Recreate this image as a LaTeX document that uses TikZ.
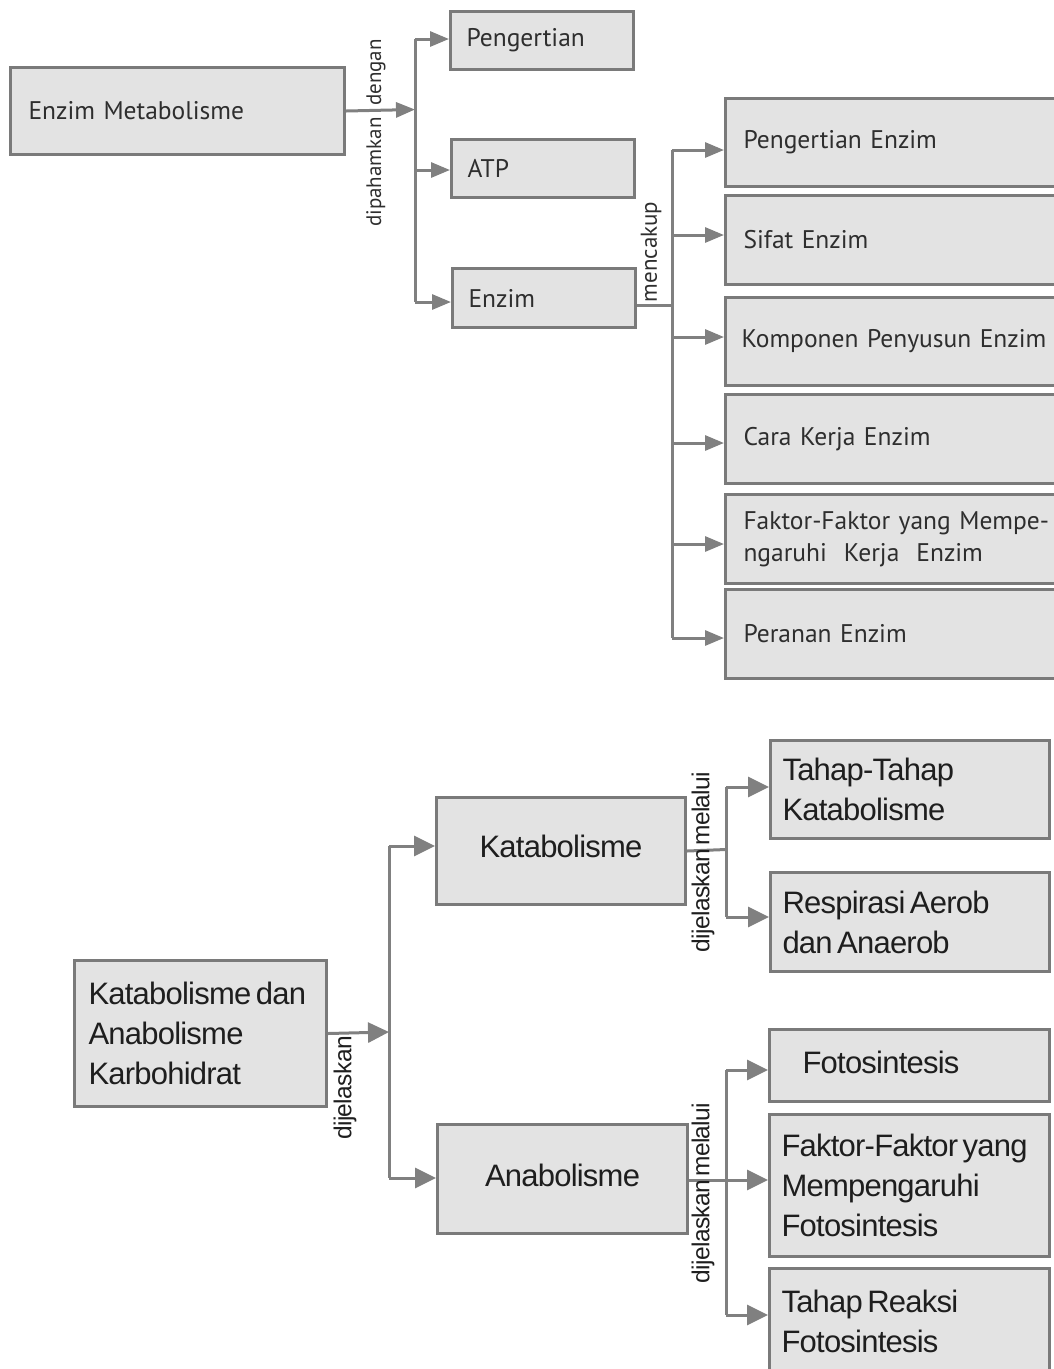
\documentclass[tikz,border=0pt]{standalone}
\usepackage{fontspec}
\setmainfont{PT Sans}
\newfontfamily\arialf[LetterSpace=-2.5]{Liberation Sans}
\newcommand\botfnt{\arialf\fontsize{31}{40}\selectfont}
\newcommand\labfnt{\arialf\fontsize{24.5}{26}\selectfont}
\newcommand\bsp{\spaceskip=4.5pt plus 2pt\relax}
\newcommand\lsp{\spaceskip=3pt\relax}
\usetikzlibrary{arrows.meta}
\definecolor{bordc}{HTML}{7A7A7A}
\definecolor{fillc}{HTML}{E3E3E3}
\definecolor{linec}{HTML}{808080}
\definecolor{txtt}{HTML}{2E2E2E}
\definecolor{txtb}{HTML}{1E1E1E}
\begin{document}
\begin{tikzpicture}[x=1pt,y=-1pt,
  bx/.style={draw=bordc,fill=fillc,line width=3pt,inner ysep=0pt,anchor=north west,align=left},
  topbx/.style={bx,text=txtt,font=\fontsize{25.5}{33}\selectfont},
  botbx/.style={bx,text=txtb,font=\botfnt},
  ln/.style={draw=linec,line width=3pt},
  tarr/.style={ln,-{Triangle[length=19pt,width=15pt]}},
  barr/.style={ln,-{Triangle[length=21pt,width=20pt]}},
  toplab/.style={rotate=90,text=txtt,inner sep=0pt},
  botlab/.style={rotate=90,text=txtb,font=\labfnt,inner sep=0pt}]
\useasboundingbox (0,0) rectangle (1054,1369);

% ---------- top part ----------
\node[topbx,minimum width=334,minimum height=87,inner xsep=18pt,text width=298pt] (em) at (9,66) {Enzim Metabolisme};
\node[topbx,minimum width=183,minimum height=58,inner xsep=16pt,text width=151pt] (peng) at (449,10) {Pengertian};
\node[topbx,minimum width=183,minimum height=58,inner xsep=16pt,text width=151pt] (atp) at (450,138) {ATP};
\node[topbx,minimum width=183,minimum height=59,inner xsep=16pt,text width=151pt] (enz) at (451,267) {Enzim};

\node[topbx,minimum height=88,inner xsep=18pt,text width=320pt] (pe) at (724,97) {Pengertian Enzim};
\node[topbx,minimum height=89,inner xsep=18pt,text width=320pt] (se) at (724,194) {Sifat Enzim};
\node[topbx,minimum height=88,inner xsep=16pt,text width=320pt] (kp) at (724,296) {Komponen Penyusun Enzim};
\node[topbx,minimum height=89,inner xsep=18pt,text width=320pt] (ck) at (724,393) {Cara Kerja Enzim};
\node[topbx,minimum height=89,inner xsep=18pt,text width=320pt] (ff) at (724,493) {Faktor-Faktor yang Mempe-\\[-1pt]ngaruhi\ \ Kerja\ \ Enzim};
\node[topbx,minimum height=89,inner xsep=18pt,text width=320pt] (pr) at (724,588) {Peranan Enzim};

\coordinate (j1) at (415,109.5);
\coordinate (j1t) at (415,39);
\coordinate (j1a) at (415,170);
\coordinate (j1b) at (415,302);
\draw[tarr] (em.east) -- (j1);
\draw[ln] (j1t) -- (j1b);
\draw[tarr] (j1t) -- (j1t -| peng.west);
\draw[tarr] (j1a) -- (j1a -| atp.west);
\draw[tarr] (j1b) -- (j1b -| enz.west);
\node[toplab,font=\fontsize{21}{22}\selectfont] (l1) at (376,133) {dipahamkan\ \ dengan};

\coordinate (j2) at (672,305);
\coordinate (j2a) at (672,150);
\coordinate (j2b) at (672,235);
\coordinate (j2c) at (672,337);
\coordinate (j2d) at (672,443);
\coordinate (j2e) at (672,544);
\coordinate (j2f) at (672,638);
\draw[ln] (j2 -| enz.east) -- (j2);
\draw[ln] (j2a) -- (j2f);
\draw[tarr] (j2a) -- (j2a -| pe.west);
\draw[tarr] (j2b) -- (j2b -| se.west);
\draw[tarr] (j2c) -- (j2c -| kp.west);
\draw[tarr] (j2d) -- (j2d -| ck.west);
\draw[tarr] (j2e) -- (j2e -| ff.west);
\draw[tarr] (j2f) -- (j2f -| pr.west);
\node[toplab,font=\fontsize{23}{24}\selectfont] (l2) at (651,252) {mencakup};

% ---------- bottom part ----------
\node[botbx,minimum width=252,minimum height=146,inner xsep=14pt,text width=224pt] (kak) at (73,959) {\bsp Katabolisme dan\\Anabolisme\\Karbohidrat};
\node[botbx,minimum width=249,minimum height=107,inner xsep=0pt,text width=249pt,align=center] (kat) at (435,796) {\raisebox{10pt}{Katabolisme}};
\node[botbx,minimum width=250,minimum height=109,inner xsep=0pt,text width=250pt,align=center] (ana) at (436,1123) {\raisebox{8pt}{Anabolisme}};

\node[botbx,minimum width=279,minimum height=98,inner xsep=12pt,text width=255pt] (tt) at (769,739) {\bsp Tahap-Tahap\\Katabolisme};
\node[botbx,minimum width=279,minimum height=99,inner xsep=12pt,text width=255pt] (rs) at (769,871) {\bsp Respirasi Aerob\\dan Anaerob};
\node[botbx,minimum width=280,minimum height=72,inner xsep=33pt,text width=214pt] (fo) at (768,1028) {\raisebox{7pt}{Fotosintesis}};
\node[botbx,minimum width=280,minimum height=142,inner xsep=12pt,text width=256pt] (fk) at (768,1113) {\bsp Faktor-Faktor yang\\Mempengaruhi\\Fotosintesis};
\node[botbx,minimum width=280,minimum height=106,inner xsep=12pt,text width=256pt] (tr) at (768,1267) {\raisebox{8pt}{\parbox{256pt}{\botfnt\bsp Tahap Reaksi\\Fotosintesis}}};

\coordinate (k1) at (389,1032);
\coordinate (k1a) at (389,846);
\coordinate (k1b) at (389,1178);
\draw[barr] (kak.east) -- (k1);
\draw[ln] (k1a) -- (k1b);
\draw[barr] (k1a) -- (k1a -| kat.west);
\draw[barr] (k1b) -- (k1b -| ana.west);
\node[botlab] (l3) at (345,1088) {dijelaskan};

\coordinate (k2) at (726,849.5);
\coordinate (k2a) at (726,787);
\coordinate (k2b) at (726,917);
\draw[ln] (kat.east) -- (k2);
\draw[ln] (k2a) -- (k2b);
\draw[barr] (k2a) -- (k2a -| tt.west);
\draw[barr] (k2b) -- (k2b -| rs.west);
\node[botlab] (l4) at (703,862) {\lsp dijelaskan melalui};

\coordinate (k3) at (726,1180);
\coordinate (k3a) at (726,1070);
\coordinate (k3b) at (726,1315);
\draw[ln] (k3 -| ana.east) -- (k3);
\draw[ln] (k3a) -- (k3b);
\draw[barr] (k3a) -- (k3a -| fo.west);
\draw[barr] (k3) -- (k3 -| fk.west);
\draw[barr] (k3b) -- (k3b -| tr.west);
\node[botlab] (l5) at (703,1193) {\lsp dijelaskan melalui};
\end{tikzpicture}
\end{document}
